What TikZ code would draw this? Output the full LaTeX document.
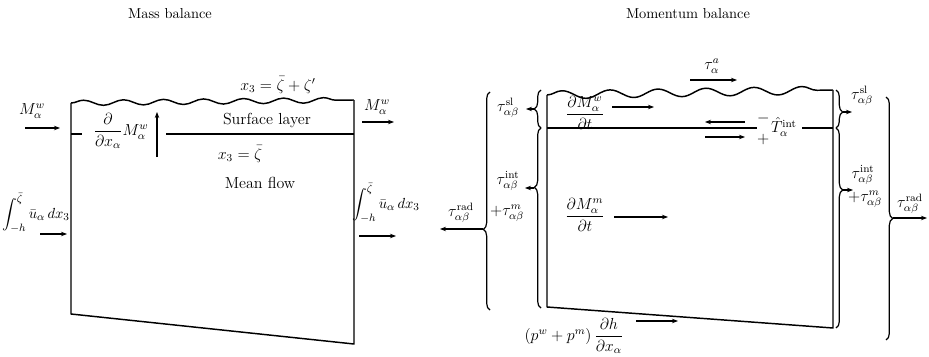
\documentclass[tikz,border=0pt]{standalone}
\usepackage{amsmath}
\usepackage{tikz}
\usetikzlibrary{arrows.meta, decorations.pathmorphing, decorations.pathreplacing}
\tikzset{
  paroi/.style={line width=1.1pt, line join=round},
  vague/.style={paroi, decorate, decoration={snake, segment length=30pt, amplitude=2pt}},
  grandevague/.style={paroi, decorate, decoration={snake, segment length=36pt, amplitude=3pt}},
  accolade/.style={line width=0.9pt, decorate, decoration={brace, amplitude=5pt, aspect=#1}},
  accolade/.default=0.5,
  fleche/.style={-{Stealth[length=1.6mm, width=1.2mm]}, line width=0.8pt},
  etiquette/.style={inner sep=1pt, align=center, font=\fontsize{12}{14}\selectfont},
  integrale/.style={etiquette, font=\fontsize{11}{13}\selectfont},
  titre/.style={inner sep=1pt, font=\fontsize{10.8}{13}\selectfont}
}

\begin{document}
\begin{tikzpicture}[x=0.75pt, y=-0.75pt]
  \useasboundingbox (0,0) rectangle (929,357);
  \node[titre] (titremasse) at (170,14) {Mass balance};
  \node[titre] (titremvt) at (688,14) {Momentum balance};

  % bilan de masse
  \draw[vague] (71,103) -- (354,100);
  \draw[paroi] (71,103) -- (71,314) -- (354,344) -- (354,100);
  \draw[paroi] (71,134) -- (82,134);
  \draw[paroi] (166,134) -- (354,134);
  \node[etiquette] (x3haut) at (278,85) {$x_3=\bar{\zeta}+\zeta'$};
  \node[etiquette] (couche) at (267,120) {Surface layer};
  \node[etiquette] (x3bas) at (240,154) {$x_3=\bar{\zeta}$};
  \node[etiquette] (moyen) at (260,183) {Mean flow};
  \node[etiquette] (divmw) at (121,131) {$\dfrac{\partial}{\partial x_\alpha}M^{w}_{\alpha}$};
  \coordinate (montee-bas) at (157,157);
  \coordinate (montee-haut) at (157,112);
  \draw[fleche] (montee-bas) -- (montee-haut);
  \node[etiquette] (mwgauche) at (32,111) {$M^{w}_{\alpha}$};
  \coordinate (mwg-a) at (25,128);
  \coordinate (mwg-b) at (60,128);
  \draw[fleche] (mwg-a) -- (mwg-b);
  \node[etiquette] (mwdroite) at (377,107) {$M^{w}_{\alpha}$};
  \coordinate (mwd-a) at (362,122);
  \coordinate (mwd-b) at (394,122);
  \draw[fleche] (mwd-a) -- (mwd-b);
  \node[integrale] (intgauche) at (36,213) {$\displaystyle\int_{-h}^{\bar{\zeta}}\bar{u}_{\alpha}\,dx_3$};
  \coordinate (ig-a) at (40,234);
  \coordinate (ig-b) at (67,234);
  \draw[fleche] (ig-a) -- (ig-b);
  \node[integrale] (intdroite) at (386,203) {$\displaystyle\int_{-h}^{\bar{\zeta}}\bar{u}_{\alpha}\,dx_3$};
  \coordinate (id-a) at (359,236);
  \coordinate (id-b) at (396,236);
  \draw[fleche] (id-a) -- (id-b);

  % bilan de quantite de mouvement
  \draw[grandevague] (547,95) -- (833,90);
  \draw[paroi] (547,95) -- (547,307) -- (833,328) -- (833,90);
  \draw[paroi] (547,128) -- (757,128);
  \draw[paroi] (802,128) -- (833,128);
  \node[etiquette] (dmw) at (585,113) {$\dfrac{\partial M^{w}_{\alpha}}{\partial t}$};
  \coordinate (dmw-a) at (612,107);
  \coordinate (dmw-b) at (654,107);
  \draw[fleche] (dmw-a) -- (dmw-b);
  \node[etiquette] (dmm) at (585,215) {$\dfrac{\partial M^{m}_{\alpha}}{\partial t}$};
  \coordinate (dmm-a) at (614,217);
  \coordinate (dmm-b) at (668,217);
  \draw[fleche] (dmm-a) -- (dmm-b);
  \node[etiquette] (taua) at (712,66) {$\tau^{a}_{\alpha}$};
  \coordinate (taua-a) at (690,80);
  \coordinate (taua-b) at (737,80);
  \draw[fleche] (taua-a) -- (taua-b);
  \node[etiquette] (tint) at (776,129) {$\genfrac{}{}{0pt}{0}{-}{+}\hat{T}^{\mathrm{int}}_{\alpha}$};
  \coordinate (ti-a) at (745,122);
  \coordinate (ti-b) at (705,122);
  \coordinate (ti-c) at (705,137);
  \coordinate (ti-d) at (745,137);
  \draw[fleche] (ti-a) -- (ti-b);
  \draw[fleche] (ti-c) -- (ti-d);
  \node[etiquette] (pression) at (574,336) {$(p^{w}+p^{m})\,\dfrac{\partial h}{\partial x_\alpha}$};
  \coordinate (pr-a) at (636,321);
  \coordinate (pr-b) at (678,321);
  \draw[fleche] (pr-a) -- (pr-b);

  % accolades gauches
  \draw[accolade=0.37] (490,310) -- (490,92);
  \draw[accolade=0.5] (541,128) -- (541,90);
  \draw[accolade=0.67] (541,308) -- (541,128);
  \node[etiquette] (radgauche) at (461,213) {$\tau^{\mathrm{rad}}_{\alpha\beta}$};
  \node[etiquette] (slgauche) at (508,108) {$\tau^{\mathrm{sl}}_{\alpha\beta}$};
  \node[etiquette] (intgauche2) at (508,181) {$\tau^{\mathrm{int}}_{\alpha\beta}$};
  \node[etiquette] (mgauche) at (507,213) {$+\tau^{m}_{\alpha\beta}$};
  \coordinate (rg-a) at (483,229);
  \coordinate (rg-b) at (440,229);
  \coordinate (slg-a) at (534,109);
  \coordinate (slg-b) at (526,109);
  \coordinate (ig2-a) at (534,188);
  \coordinate (ig2-b) at (525,188);
  \draw[fleche] (rg-a) -- (rg-b);
  \draw[fleche] (slg-a) -- (slg-b);
  \draw[fleche] (ig2-a) -- (ig2-b);

  % accolades droites
  \draw[accolade=0.58] (836,90) -- (836,128);
  \draw[accolade=0.31] (836,128) -- (836,328);
  \draw[accolade=0.5] (886,97) -- (886,340);
  \node[etiquette] (sldroite) at (862,96) {$\tau^{\mathrm{sl}}_{\alpha\beta}$};
  \node[etiquette] (intdroite2) at (863,175) {$\tau^{\mathrm{int}}_{\alpha\beta}$};
  \node[etiquette] (mdroite) at (865,199) {$+\tau^{m}_{\alpha\beta}$};
  \node[etiquette] (raddroite) at (910,204) {$\tau^{\mathrm{rad}}_{\alpha\beta}$};
  \coordinate (sld-a) at (843,112);
  \coordinate (sld-b) at (852,112);
  \coordinate (id2-a) at (843,190);
  \coordinate (id2-b) at (853,190);
  \coordinate (rd-a) at (893,218);
  \coordinate (rd-b) at (927,218);
  \draw[fleche] (sld-a) -- (sld-b);
  \draw[fleche] (id2-a) -- (id2-b);
  \draw[fleche] (rd-a) -- (rd-b);
\end{tikzpicture}
\end{document}
